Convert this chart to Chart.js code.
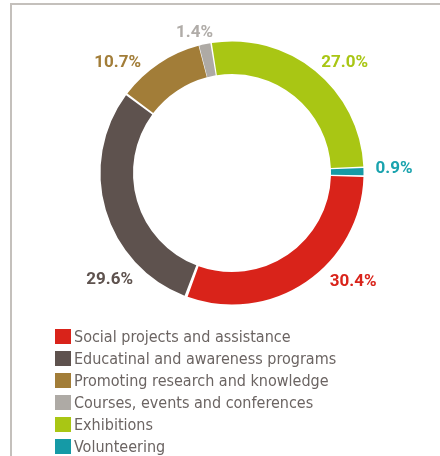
<!DOCTYPE html>
<html>
<head>
<meta charset="utf-8">
<script src="https://cdn.jsdelivr.net/npm/chart.js@4.4.0/dist/chart.umd.min.js"></script>
<style>
  html, body { margin: 0; padding: 0; background: #fff; overflow: hidden; }
  #page { position: relative; width: 440px; height: 456px; overflow: hidden; }
  .rule { position: absolute; background: #c4c0bc; }
  #ruleTop { left: 10px; top: 3px; width: 430px; height: 2px; }
  #ruleLeft { left: 10px; top: 3px; width: 2px; height: 453px; }
  #wrap { position: absolute; left: 0; top: 0; width: 440px; height: 330px; }
  #legend {
    position: absolute; left: 55px; top: 325px; margin: 0; padding: 0; list-style: none;
    font-family: "DejaVu Sans Condensed", "Liberation Sans Narrow", sans-serif;
    font-size: 16px; color: #6b6462;
  }
  #legend li { display: flex; align-items: center; height: 22px; white-space: nowrap; }
  #legend span.box { display: inline-block; width: 16px; height: 15px; margin-right: 3px; }
</style>
</head>
<body>
<div id="page">
  <div class="rule" id="ruleTop"></div>
  <div class="rule" id="ruleLeft"></div>
  <div id="wrap"><canvas id="donut"></canvas></div>
  <ul id="legend"></ul>
</div>
<script>
document.addEventListener("DOMContentLoaded", function () {
    // data
    const categories = [
        "Social projects and assistance",
        "Educatinal and awareness programs",
        "Promoting research and knowledge",
        "Courses, events and conferences",
        "Exhibitions",
        "Volunteering"
    ];
    const shares = [30.4, 29.6, 10.7, 1.4, 27.0, 0.9];
    const colors = ["#d9231a", "#5e524e", "#a27d38", "#aeaaa5", "#a9c614", "#159aa6"];
    const labelColors = ["#d9231a", "#5e524e", "#a27d38", "#b0aca8", "#a9c614", "#1aa3ae"];

    // where the percentage labels sit: angle (deg, clockwise from top) and distance past the outer edge
    const labelAngles = [132, 229, 314, 345, 45.5, 88.6];
    const labelDistances = [33, 32, 29, 15, 28, 32];

    const outsideLabels = {
        id: "outsideLabels",
        afterDatasetsDraw(chart) {
            const meta = chart.getDatasetMeta(0);
            const ctx = chart.ctx;
            ctx.save();
            ctx.font = "bold 17px Roboto, 'DejaVu Sans', sans-serif";
            ctx.textAlign = "center";
            ctx.textBaseline = "middle";
            meta.data.forEach(function (arc, i) {
                const a = labelAngles[i] * Math.PI / 180;
                const r = arc.outerRadius + labelDistances[i];
                const x = arc.x + r * Math.sin(a);
                const y = arc.y - r * Math.cos(a);
                ctx.fillStyle = labelColors[i];
                ctx.fillText(shares[i].toFixed(1) + "%", x, y);
            });
            ctx.restore();
        }
    };

    const config = {
        type: "doughnut",
        data: {
            labels: categories,
            datasets: [{
                data: shares,
                backgroundColor: colors,
                borderWidth: 0,
            }],
        },
        options: {
            responsive: true,
            maintainAspectRatio: false,
            animation: false,
            rotation: 91,
            radius: 130,
            cutout: "75%",
            spacing: 3,
            layout: {
                padding: { left: 102, right: 78, top: 43, bottom: 27 }
            },
            plugins: {
                legend: { display: false },
                tooltip: { enabled: false },
            },
        },
        plugins: [outsideLabels],
    };

    new Chart(document.getElementById("donut"), config);

    // legend list
    const legend = document.getElementById("legend");
    categories.forEach(function (name, i) {
        const li = document.createElement("li");
        const box = document.createElement("span");
        box.className = "box";
        box.style.background = colors[i];
        li.appendChild(box);
        li.appendChild(document.createTextNode(name));
        legend.appendChild(li);
    });
});
</script>
</body>
</html>
